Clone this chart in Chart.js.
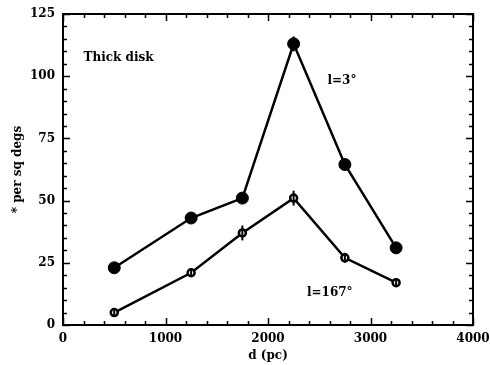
<!DOCTYPE html>
<html lang="en">
<head>
  <meta charset="UTF-8" />
  <title>Thick disk</title>
  <script src="https://cdn.jsdelivr.net/npm/chart.js"></script>
  <style>
    html, body { margin: 0; padding: 0; background: #fff; }
    #wrap { width: 490px; height: 365px; }
  </style>
</head>
<body>
  <div id="wrap"><canvas id="c" width="490" height="365"></canvas></div>

  <script>
    // distances (pc)
    const dist = [500, 1250, 1750, 2250, 2750, 3250];
    // l = 3 deg
    const l3 = [23, 43, 51, 113, 64.5, 31];
    const l3Err = [1, 1, 1, 3, 1, 1];
    // l = 167 deg
    const l167 = [5, 21, 37, 51, 27, 17];
    const l167Err = [1, 1.5, 3, 3, 2, 1];

    const xTicks = [0, 1000, 2000, 3000, 4000];
    const yTicks = [0, 25, 50, 75, 100, 125];

    const labels = [
      { text: 'Thick disk', x: 200, y: 107.5 },
      { text: 'l=3°', x: 2580, y: 98 },
      { text: 'l=167°', x: 2380, y: 13 }
    ];

    const serif = '"DejaVu Serif", serif';

    const pts = (xs, ys) => xs.map((x, i) => ({ x: x, y: ys[i] }));

    // error bars, frame, inward ticks on all sides, annotations
    const extras = {
      id: 'extras',
      afterDatasetsDraw(chart) {
        const { ctx, chartArea: a, scales: { x, y } } = chart;
        ctx.save();
        ctx.strokeStyle = '#000';
        ctx.lineWidth = 2;
        [[l3, l3Err], [l167, l167Err]].forEach(([vals, errs]) => {
          dist.forEach((d, i) => {
            const px = x.getPixelForValue(d);
            ctx.beginPath();
            ctx.moveTo(px, y.getPixelForValue(vals[i] - errs[i]));
            ctx.lineTo(px, y.getPixelForValue(vals[i] + errs[i]));
            ctx.stroke();
          });
        });

        ctx.strokeRect(a.left, a.top, a.right - a.left, a.bottom - a.top);
        ctx.lineWidth = 1.5;
        for (let v = 0; v <= 4000; v += 200) {
          const px = Math.round(x.getPixelForValue(v)) + 0.5;
          const len = v % 1000 === 0 ? 7 : 4;
          ctx.beginPath();
          ctx.moveTo(px, a.bottom); ctx.lineTo(px, a.bottom - len);
          ctx.moveTo(px, a.top); ctx.lineTo(px, a.top + len);
          ctx.stroke();
        }
        for (let v = 0; v <= 125; v += 5) {
          const py = Math.round(y.getPixelForValue(v)) + 0.5;
          const len = v % 25 === 0 ? 7 : 4;
          ctx.beginPath();
          ctx.moveTo(a.left, py); ctx.lineTo(a.left + len, py);
          ctx.moveTo(a.right, py); ctx.lineTo(a.right - len, py);
          ctx.stroke();
        }

        ctx.fillStyle = '#000';
        ctx.font = 'bold 12px ' + serif;
        ctx.textBaseline = 'middle';
        ctx.textAlign = 'left';
        labels.forEach(l => {
          ctx.fillText(l.text, x.getPixelForValue(l.x), y.getPixelForValue(l.y));
        });
        ctx.restore();
      }
    };

    new Chart(document.getElementById('c'), {
      type: 'scatter',
      data: {
        datasets: [
          {
            label: 'l=3°',
            data: pts(dist, l3),
            showLine: true,
            borderColor: '#000',
            borderWidth: 2.5,
            pointRadius: 6,
            pointBackgroundColor: '#000',
            pointBorderColor: '#000',
            pointBorderWidth: 1
          },
          {
            label: 'l=167°',
            data: pts(dist, l167),
            showLine: true,
            borderColor: '#000',
            borderWidth: 2.5,
            pointRadius: 3.5,
            pointBackgroundColor: '#fff',
            pointBorderColor: '#000',
            pointBorderWidth: 2.5
          }
        ]
      },
      options: {
        responsive: false,
        animation: false,
        layout: { padding: { top: 14, right: 17, left: 11, bottom: 2 } },
        plugins: { legend: { display: false }, tooltip: { enabled: false } },
        scales: {
          x: {
            type: 'linear',
            min: 0, max: 4000,
            afterBuildTicks: s => { s.ticks = xTicks.map(v => ({ value: v })); },
            afterFit: s => { s.height = 38; s.paddingLeft = 0; s.paddingRight = 0; },
            grid: { display: false, drawTicks: false },
            border: { display: false },
            ticks: { color: '#000', padding: 7, maxRotation: 0, callback: v => String(v), font: { family: serif, size: 12, weight: 'bold' } },
            title: { display: true, text: 'd (pc)', color: '#000', padding: 0, font: { family: serif, size: 12, weight: 'bold' } }
          },
          y: {
            min: 0, max: 125,
            afterBuildTicks: s => { s.ticks = yTicks.map(v => ({ value: v })); },
            afterFit: s => { s.width = 52; s.paddingTop = 0; s.paddingBottom = 0; },
            grid: { display: false, drawTicks: false },
            border: { display: false },
            ticks: { color: '#000', padding: 8, callback: v => String(v), font: { family: serif, size: 12, weight: 'bold' } },
            title: { display: true, text: '* per sq degs', color: '#000', padding: 0, font: { family: serif, size: 12, weight: 'bold' } }
          }
        }
      },
      plugins: [extras]
    });
  </script>
</body>
</html>
